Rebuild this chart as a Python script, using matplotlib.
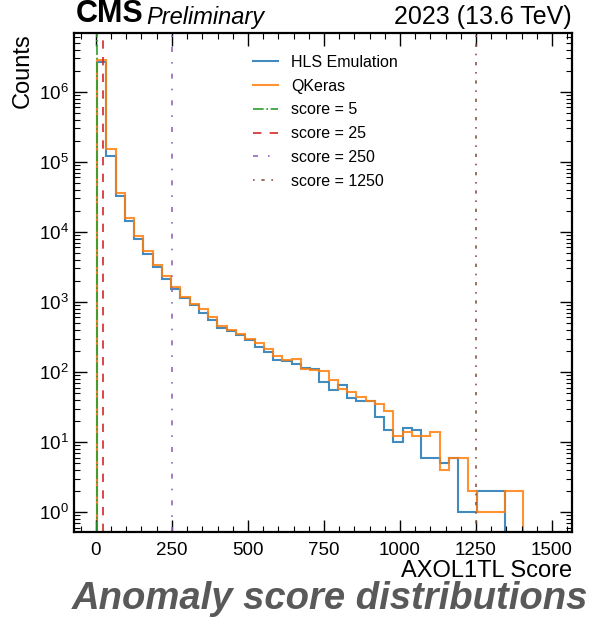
import numpy as np
import matplotlib
matplotlib.use("Agg")
import matplotlib.pyplot as plt
from matplotlib.ticker import MultipleLocator, LogLocator, NullFormatter

plt.rcParams['font.family'] = ['Liberation Sans', 'DejaVu Sans']
plt.rcParams['mathtext.fontset'] = 'custom'
plt.rcParams['mathtext.rm'] = 'Liberation Sans'

# 46 equal bins between the lowest and highest score
score_min = 4
score_max = 1405
n_bins = 46
edges = np.linspace(score_min, score_max, n_bins + 1)

# counts per bin
qkeras = [2.8e6, 1.5e5, 3.6e4, 1.6e4, 8.7e3, 5.35e3, 3.4e3, 2.33e3, 1.64e3, 1.19e3,
          927, 780, 611, 450, 394, 346, 300, 255, 216, 168,
          147, 155, 110, 106, 104, 76, 57, 51, 44, 39,
          35, 28, 12, 14, 12, 12, 14, 4, 6, 6,
          2, 1, 1, 1, 2, 2]
hls = [2.7e6, 1.2e5, 3.2e4, 1.44e4, 8.0e3, 4.8e3, 3.1e3, 2.09e3, 1.55e3, 1.13e3,
       890, 700, 548, 430, 385, 334, 284, 228, 193, 150,
       144, 132, 115, 112, 72, 55, 65, 42, 39, 39,
       23, 15, 10, 16, 15, 6, 6, 5, 6, 1,
       1, 2, 2, 2]

thresholds = [5, 25, 250, 1250]
thr_colors = ['tab:green', 'tab:red', 'tab:purple', 'tab:brown']
thr_styles = ['-.', (0, (5, 5)), (0, (3, 6, 1, 6)), (0, (1, 4, 2, 4))]
y_ticks = [1e0, 1e1, 1e2, 1e3, 1e4, 1e5, 1e6]

fig = plt.figure(figsize=(6.05, 6.33), dpi=100)
ax = fig.add_axes([0.1223, 0.1596, 0.8232, 0.7883])

ax.stairs(hls, edges[:len(hls) + 1], color='tab:blue', lw=1.5, alpha=0.85,
          baseline=1e-3, label='HLS Emulation')
ax.stairs(qkeras, edges, color='tab:orange', lw=1.5, alpha=0.85,
          baseline=1e-3, label='QKeras')

for t, c, s in zip(thresholds, thr_colors, thr_styles):
    ax.axvline(t, color=c, ls=s, lw=1.2, label='score = %d' % t)

ax.set_yscale('log')
ax.set_xlim(-72, 1566)
ax.set_ylim(0.52, 6.9e6)

ax.xaxis.set_major_locator(MultipleLocator(250))
ax.xaxis.set_minor_locator(MultipleLocator(50))
ax.set_yticks(y_ticks)
ax.yaxis.set_minor_locator(LogLocator(base=10, subs=np.arange(2, 10), numticks=20))
ax.yaxis.set_minor_formatter(NullFormatter())

ax.tick_params(which='both', direction='in', top=True, right=True, labelsize=13.5)
ax.tick_params(which='major', length=9, width=1)
ax.tick_params(which='minor', length=4.5, width=0.8)
ax.tick_params(axis='x', pad=7)
for sp in ax.spines.values():
    sp.set_linewidth(1.6)

ax.set_xlabel('AXOL1TL Score', fontsize=17, loc='right', labelpad=1)
ax.set_ylabel('Counts', fontsize=17, loc='top', labelpad=4)

ax.text(0.003, 1.008, 'CMS', transform=ax.transAxes, fontsize=22,
        fontweight='bold', ha='left', va='bottom')
ax.text(0.145, 1.008, 'Preliminary', transform=ax.transAxes, fontsize=17,
        style='italic', ha='left', va='bottom')
ax.text(1.0, 1.008, '2023 (13.6 TeV)', transform=ax.transAxes, fontsize=18,
        ha='right', va='bottom')

ax.legend(loc='upper left', bbox_to_anchor=(0.33, 0.985), frameon=False,
          fontsize=11.5, handlelength=1.6, handletextpad=0.8, labelspacing=0.55)

fig.text(0.545, 0.038, 'Anomaly score distributions', fontsize=27.5,
         fontweight='bold', style='italic', color='#595959',
         ha='center', va='baseline')

fig.savefig('out.png', dpi=100)
